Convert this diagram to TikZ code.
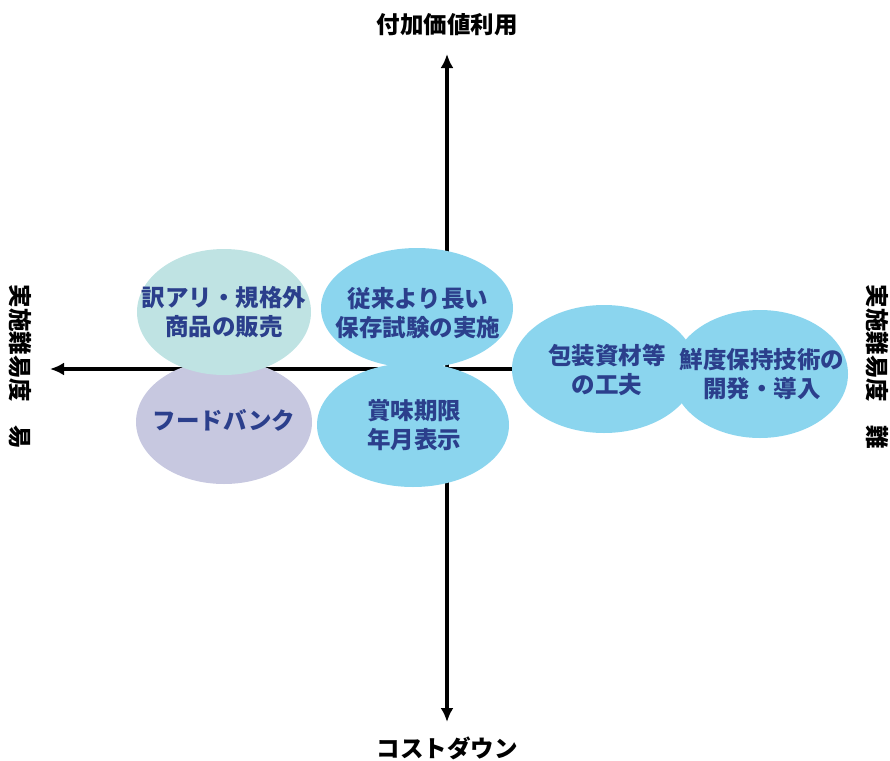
\documentclass[tikz,border=0pt]{standalone}
\usepackage{fontspec}
\setmainfont{Noto Sans CJK JP}
\usetikzlibrary{arrows.meta}
\definecolor{tealfill}{HTML}{BFE3E3}
\definecolor{lavfill}{HTML}{C7C8E0}
\definecolor{bluefill}{HTML}{8BD5EE}
\definecolor{txtblue}{HTML}{2B3F8C}
\begin{document}
\begin{tikzpicture}[x=1pt,y=-1pt,
  axis/.style={line width=3.2pt,-{Latex[length=14pt,width=13pt]}},
  bubtext/.style={text=txtblue, font=\fontsize{23.5}{29}\selectfont\bfseries, align=center},
  axlabel/.style={text=black, font=\fontsize{23.5}{26}\selectfont\bfseries}]
\useasboundingbox (0,0) rectangle (890,760);
\coordinate (vc) at (447,369);
\coordinate (top) at (447,54);
\coordinate (bot) at (447,722);
\coordinate (left) at (50,369);
\coordinate (right) at (515,369);
\draw[axis] (vc) -- (top);
\draw[axis] (vc) -- (bot);
\draw[axis] (right) -- (left);
% ellipses
\fill[lavfill] (224,422) ellipse [x radius=88, y radius=62];
\fill[tealfill] (224,312) ellipse [x radius=87, y radius=63];
\fill[bluefill] (413,425) ellipse [x radius=96, y radius=62];
\fill[bluefill] (417,308) ellipse [x radius=96, y radius=60];
\fill[bluefill] (604,369) ellipse [x radius=92, y radius=64];
\fill[bluefill] (760,374) ellipse [x radius=88, y radius=64];
% texts
\node[bubtext] (n1) at (224,312) {訳アリ・規格外\\商品の販売};
\node[bubtext] (n2) at (224,420) {フードバンク};
\node[bubtext] (n3) at (418,313) {従来より長い\\保存試験の実施};
\node[bubtext] (n4) at (414,425) {賞味期限\\年月表示};
\node[bubtext] (n5) at (607,370) {包装資材等\\の工夫};
\node[bubtext] (n6) at (762,374) {鮮度保持技術の\\開発・導入};
% axis labels
\node[axlabel] (lt) at (447,25) {付加価値利用};
\node[axlabel] (lb) at (447,748) {コストダウン};
\node[axlabel, rotate=-90] (ll) at (20,367) {実施難易度　易};
\node[axlabel, rotate=-90] (lr) at (877,367) {実施難易度　難};
\end{tikzpicture}
\end{document}
